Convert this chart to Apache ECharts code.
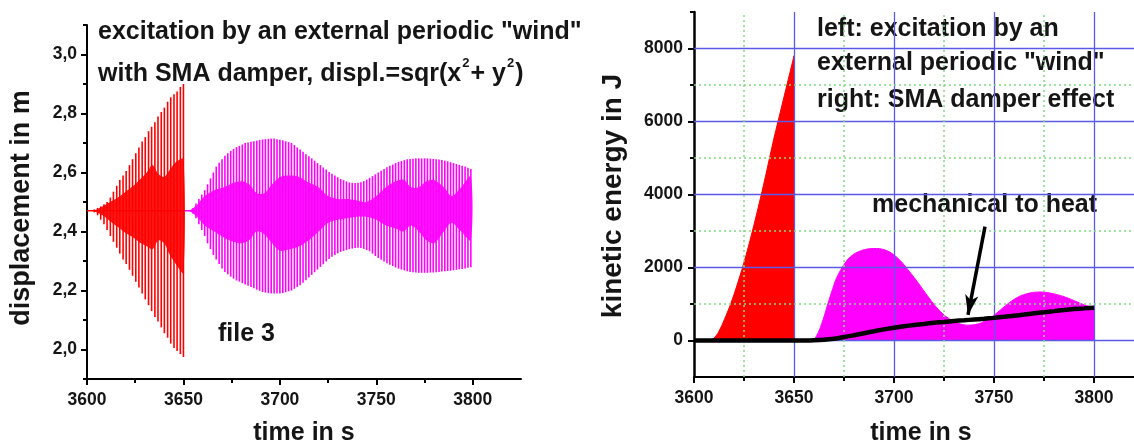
<!DOCTYPE html>
<html>
<head>
<meta charset="utf-8">
<script src="https://cdn.jsdelivr.net/npm/echarts@6/dist/echarts.min.js"></script>
<style>
  html, body { margin: 0; padding: 0; background: #fff; }
  #chart { width: 1134px; height: 446px; }
</style>
</head>
<body>
<div id="chart"></div>
<script>
// ---------- displacement panel (left) ----------
const restLevel = 2.47;

// excitation phase: one stroke per oscillation (time, upper and lower swing)
const redStrokeT = [3600.5,3602.2,3603.8,3605.5,3607.1,3608.8,3610.4,3612.1,3613.7,3615.4,3617.0,3618.7,3620.3,3622.0,3623.6,3625.3,3626.9,3628.6,3630.2,3631.9,3633.5,3635.2,3636.8,3638.5,3640.1,3641.8,3643.4,3645.1,3646.7,3648.4,3650.0];
const redStrokeHi = [2.47,2.47,2.475,2.48,2.485,2.492,2.50,2.515,2.535,2.555,2.575,2.59,2.605,2.625,2.645,2.665,2.685,2.705,2.72,2.74,2.755,2.77,2.79,2.805,2.82,2.84,2.855,2.865,2.875,2.89,2.90];
const redStrokeLo = [2.47,2.47,2.465,2.455,2.44,2.425,2.405,2.385,2.365,2.345,2.325,2.305,2.29,2.27,2.25,2.23,2.21,2.19,2.17,2.15,2.13,2.11,2.095,2.075,2.055,2.04,2.02,2.005,1.995,1.985,1.975];
// dense inner beat region
const redInnerT  = [3600,3604,3608,3612,3616,3620,3624,3628,3631,3634,3637,3640,3643,3646,3650];
const redInnerHi = [2.47,2.472,2.485,2.50,2.515,2.535,2.555,2.58,2.60,2.625,2.595,2.585,2.61,2.635,2.645];
const redInnerLo = [2.47,2.468,2.455,2.435,2.415,2.395,2.38,2.36,2.35,2.34,2.37,2.36,2.32,2.29,2.26];

// damped phase (SMA damper)
const magStrokeT = [3655.0,3656.5,3658.0,3659.5,3661.0,3662.5,3664.0,3665.5,3667.0,3668.5,3670.0,3671.5,3673.0,3674.5,3676.0,3677.5,3679.0,3680.5,3682.0,3683.5,3685.0,3686.5,3688.0,3689.5,3691.0,3692.5,3694.0,3695.5,3697.0,3698.5,3700.0,3701.5,3703.0,3704.5,3706.0,3707.5,3709.0,3710.5,3712.0,3713.5,3715.0,3716.5,3718.0,3719.5,3721.0,3722.5,3724.0,3725.5,3727.0,3728.5,3730.0,3731.5,3733.0,3734.5,3736.0,3737.5,3739.0,3740.5,3742.0,3743.5,3745.0,3746.5,3748.0,3749.5,3751.0,3752.5,3754.0,3755.5,3757.0,3758.5,3760.0,3761.5,3763.0,3764.5,3766.0,3767.5,3769.0,3770.5,3772.0,3773.5,3775.0,3776.5,3778.0,3779.5,3781.0,3782.5,3784.0,3785.5,3787.0,3788.5,3790.0,3791.5,3793.0,3794.5,3796.0,3797.5,3799.0];
const magStrokeHi = [2.48,2.495,2.51,2.525,2.54,2.56,2.58,2.60,2.62,2.633,2.645,2.657,2.665,2.673,2.68,2.686,2.69,2.695,2.70,2.702,2.704,2.706,2.708,2.71,2.712,2.713,2.714,2.715,2.715,2.713,2.711,2.709,2.706,2.703,2.70,2.693,2.685,2.678,2.67,2.662,2.655,2.648,2.64,2.632,2.625,2.617,2.61,2.602,2.596,2.59,2.584,2.578,2.574,2.57,2.566,2.565,2.564,2.565,2.567,2.571,2.576,2.582,2.588,2.594,2.60,2.606,2.612,2.618,2.623,2.627,2.632,2.636,2.639,2.642,2.645,2.646,2.647,2.648,2.648,2.648,2.648,2.648,2.647,2.646,2.645,2.644,2.642,2.64,2.638,2.635,2.632,2.629,2.626,2.623,2.62,2.616,2.612];
const magStrokeLo = [2.46,2.445,2.425,2.405,2.385,2.36,2.34,2.32,2.305,2.29,2.275,2.263,2.255,2.247,2.24,2.234,2.23,2.225,2.22,2.216,2.212,2.208,2.203,2.199,2.195,2.193,2.191,2.19,2.19,2.19,2.19,2.191,2.194,2.197,2.20,2.206,2.212,2.218,2.226,2.235,2.244,2.253,2.262,2.271,2.28,2.289,2.298,2.307,2.314,2.32,2.326,2.331,2.334,2.337,2.34,2.342,2.344,2.345,2.344,2.341,2.337,2.333,2.325,2.317,2.31,2.304,2.298,2.292,2.287,2.283,2.278,2.274,2.271,2.268,2.265,2.263,2.262,2.261,2.26,2.26,2.26,2.26,2.261,2.261,2.262,2.263,2.264,2.265,2.266,2.267,2.269,2.27,2.272,2.273,2.275,2.277,2.279];
const magInnerT  = [3653,3657,3661,3666,3671,3676,3680,3684,3688,3692,3696,3700,3705,3710,3715,3720,3725,3730,3735,3740,3745,3750,3755,3760,3764,3768,3772,3776,3780,3785,3789,3794,3799];
const magInnerHi = [2.47,2.49,2.52,2.54,2.55,2.565,2.57,2.56,2.53,2.53,2.56,2.585,2.59,2.585,2.565,2.55,2.52,2.51,2.51,2.505,2.50,2.52,2.55,2.57,2.576,2.55,2.55,2.57,2.575,2.55,2.52,2.55,2.586];
const magInnerLo = [2.47,2.45,2.42,2.40,2.38,2.365,2.36,2.37,2.40,2.39,2.36,2.335,2.34,2.35,2.37,2.40,2.43,2.44,2.445,2.45,2.45,2.44,2.42,2.41,2.40,2.42,2.40,2.37,2.36,2.40,2.43,2.40,2.37];

const dispTicks = [2.0, 2.2, 2.4, 2.6, 2.8, 3.0];
const dispMinorTicks = [1.9, 2.1, 2.3, 2.5, 2.7, 2.9, 3.1];

// ---------- kinetic energy panel (right) ----------
const redKeT = [3600,3608,3609,3610,3612,3614,3616,3618,3620,3622,3624,3626,3628,3630,3632,3634,3636,3638,3640,3642,3644,3646,3648,3650,3650];
const redKeE = [0,0,20,60,200,420,680,950,1260,1600,1950,2330,2740,3170,3620,4080,4560,5060,5550,6000,6450,6900,7350,7800,0];
const magKeT = [3655,3659,3661,3663,3665,3667,3669,3671,3673,3675,3677,3680,3683,3686,3689,3692,3695,3698,3701,3704,3707,3710,3713,3716,3719,3722,3725,3728,3731,3734,3737,3740,3743,3746,3749,3752,3755,3758,3761,3764,3767,3770,3773,3776,3779,3782,3785,3788,3791,3794,3797,3800,3800];
const magKeE = [0,0,100,330,650,1020,1360,1680,1900,2080,2230,2370,2450,2500,2520,2520,2490,2420,2300,2140,1940,1730,1510,1280,1060,860,700,580,490,440,420,430,470,550,650,780,920,1050,1160,1240,1290,1320,1330,1320,1290,1250,1200,1140,1070,1000,940,890,0];
const heatT = [3600,3655,3660,3665,3670,3675,3680,3685,3690,3695,3700,3705,3710,3715,3720,3725,3730,3735,3740,3745,3750,3755,3760,3765,3770,3775,3780,3785,3790,3795,3800];
const heatE = [0,0,5,20,50,95,145,200,255,305,350,390,425,455,485,510,535,555,575,595,620,650,680,710,745,775,805,835,860,880,900];

const energyTicks = [0, 2000, 4000, 6000, 8000];
const energyMinorTicks = [1000, 3000, 5000, 7000, 9000];
const energyGridMinorY = [1000, 3000, 5000, 7000];

const timeTicks = [3600, 3650, 3700, 3750, 3800];
const timeMinorTicks = [3625, 3675, 3725, 3775];

// ---------- helpers ----------
const FONT = '"Liberation Sans", Arial, sans-serif';
const INK = '#151515';
const RED = '#ff0000';
const MAGENTA = '#ff00ff';

const zip2 = (a, b) => a.map((v, i) => [v, b[i]]);
const zip3 = (a, b, c) => a.map((v, i) => [v, b[i], c[i]]);

function strokeSeries(T, HI, LO, color) {
  return {
    type: 'custom', xAxisIndex: 0, yAxisIndex: 0, silent: true, z: 3,
    data: zip3(T, HI, LO),
    encode: { x: 0, y: [1, 2] },
    renderItem: (params, api) => {
      const top = api.coord([api.value(0), api.value(1)]);
      const bot = api.coord([api.value(0), api.value(2)]);
      return {
        type: 'line',
        shape: { x1: top[0], y1: top[1], x2: bot[0], y2: bot[1] },
        style: { stroke: color, lineWidth: 1.6 }
      };
    }
  };
}

function bandSeries(T, HI, LO, color) {
  return {
    type: 'custom', xAxisIndex: 0, yAxisIndex: 0, silent: true, z: 4,
    data: [[T[0], HI[0]]],
    renderItem: (params, api) => {
      const pts = [];
      for (let i = 0; i < T.length; i++) pts.push(api.coord([T[i], HI[i]]));
      for (let i = T.length - 1; i >= 0; i--) pts.push(api.coord([T[i], LO[i]]));
      return { type: 'polygon', shape: { points: pts, smooth: 0.3 }, style: { fill: color, opacity: 0.9 } };
    }
  };
}

const tickLabel = { fontFamily: FONT, fontWeight: 'bold', fontSize: 17.5, color: INK, formatter: v => String(v) };
const axisLineStyle = { color: '#000', width: 2 };

function mainX(grid, max) {
  return {
    gridIndex: grid, type: 'value', min: 3600, max: max,
    axisLine: { show: true, onZero: false, lineStyle: axisLineStyle },
    axisTick: { show: true, customValues: timeTicks, length: 6, lineStyle: { color: '#000', width: 2 } },
    axisLabel: Object.assign({ customValues: timeTicks, margin: 12 }, tickLabel),
    splitLine: { show: false }
  };
}
function minorX(grid, max) {
  return {
    gridIndex: grid, type: 'value', min: 3600, max: max, position: 'bottom',
    axisLine: { show: false, onZero: false },
    axisTick: { show: true, customValues: timeMinorTicks, length: 4, lineStyle: { color: '#000', width: 2 } },
    axisLabel: { show: false }, splitLine: { show: false }
  };
}

const option = {
  backgroundColor: '#ffffff',
  animation: false,
  grid: [
    { left: 87, top: 25, width: 434, height: 354 },
    { left: 694, top: 12, width: 440, height: 365 }
  ],
  xAxis: [
    mainX(0, 3825), minorX(0, 3825),
    mainX(1, 3820), minorX(1, 3820)
  ],
  yAxis: [
    {
      gridIndex: 0, type: 'value', min: 1.9, max: 3.1,
      axisLine: { show: true, onZero: false, lineStyle: axisLineStyle },
      axisTick: { show: true, customValues: dispTicks, length: 6, lineStyle: { color: '#000', width: 2 } },
      axisLabel: Object.assign({}, tickLabel, { customValues: dispTicks, margin: 10,
        formatter: v => v.toFixed(1).replace('.', ',') }),
      splitLine: { show: false }
    },
    {
      gridIndex: 0, type: 'value', min: 1.9, max: 3.1, position: 'left',
      axisLine: { show: false, onZero: false },
      axisTick: { show: true, customValues: dispMinorTicks, length: 4, lineStyle: { color: '#000', width: 2 } },
      axisLabel: { show: false }, splitLine: { show: false }
    },
    {
      gridIndex: 1, type: 'value', min: -1000, max: 9000,
      axisLine: { show: true, onZero: false, lineStyle: { color: '#000', width: 2.5 } },
      axisTick: { show: true, customValues: energyTicks, length: 6, lineStyle: { color: '#000', width: 2 } },
      axisLabel: Object.assign({ customValues: energyTicks, margin: 11 }, tickLabel),
      splitLine: { show: false }
    },
    {
      gridIndex: 1, type: 'value', min: -1000, max: 9000, position: 'left',
      axisLine: { show: false, onZero: false },
      axisTick: { show: true, customValues: energyMinorTicks, length: 4, lineStyle: { color: '#000', width: 2 } },
      axisLabel: { show: false }, splitLine: { show: false }
    }
  ],
  series: [
    // left panel: rest line, oscillation strokes and dense beat bands
    { type: 'line', xAxisIndex: 0, yAxisIndex: 0, symbol: 'none', silent: true, z: 2,
      data: [[3600, restLevel], [3650, restLevel]], lineStyle: { color: RED, width: 1.5 } },
    { type: 'line', xAxisIndex: 0, yAxisIndex: 0, symbol: 'none', silent: true, z: 2,
      data: [[3650, restLevel], [3656, restLevel]], lineStyle: { color: MAGENTA, width: 1.5 } },
    strokeSeries(redStrokeT, redStrokeHi, redStrokeLo, RED),
    strokeSeries(magStrokeT, magStrokeHi, magStrokeLo, MAGENTA),
    bandSeries(redInnerT, redInnerHi, redInnerLo, RED),
    bandSeries(magInnerT, magInnerHi, magInnerLo, MAGENTA),

    // right panel: grid lines
    { type: 'line', xAxisIndex: 2, yAxisIndex: 2, symbol: 'none', silent: true, z: 1,
      data: [[3600, 0]], lineStyle: { opacity: 0 },
      markLine: {
        silent: true, symbol: 'none', label: { show: false }, animation: false,
        data: [].concat(
          energyTicks.map(v => ({ yAxis: v, lineStyle: { color: '#5a5ae6', width: 1.3, type: 'solid' } })),
          timeTicks.slice(1).map(v => ({ xAxis: v, lineStyle: { color: '#5a5ae6', width: 1.3, type: 'solid' } })),
          energyGridMinorY.map(v => ({ yAxis: v, lineStyle: { color: '#7fdc7f', width: 1.5, type: [2, 3] } })),
          timeMinorTicks.map(v => ({ xAxis: v, lineStyle: { color: '#7fdc7f', width: 1.5, type: [2, 3] } }))
        )
      }
    },
    // kinetic energy envelopes
    { type: 'line', xAxisIndex: 2, yAxisIndex: 2, symbol: 'none', silent: true, z: 3,
      data: zip2(redKeT, redKeE), lineStyle: { color: RED, width: 1 },
      areaStyle: { color: RED, opacity: 1 } },
    { type: 'line', xAxisIndex: 2, yAxisIndex: 2, symbol: 'none', silent: true, z: 3, smooth: 0.2,
      data: zip2(magKeT, magKeE), lineStyle: { color: MAGENTA, width: 1 },
      areaStyle: { color: MAGENTA, opacity: 1 } },
    // dissipated energy (mechanical to heat)
    { type: 'line', xAxisIndex: 2, yAxisIndex: 2, symbol: 'none', silent: true, z: 5, smooth: 0.3,
      data: zip2(heatT, heatE), lineStyle: { color: '#000', width: 4.5 },
      markLine: {
        silent: true, animation: false, symbol: ['none', 'arrow'], symbolSize: [10, 20],
        label: { show: false },
        lineStyle: { color: '#000', width: 3.5, type: 'solid' },
        data: [[{ coord: [3745.5, 3120] }, { coord: [3737, 700] }]]
      }
    }
  ],
  graphic: [
    { type: 'text', left: 98, top: 20, silent: true,
      style: { text: 'excitation by an external periodic "wind"', font: 'bold 25px ' + FONT, fill: INK } },
    { type: 'text', left: 98, top: 57, silent: true,
      style: {
        text: '{t|with SMA damper, displ.=sqr(x}{s|2}{t|+ y}{s|2}{t|)}',
        rich: {
          t: { font: 'bold 25px ' + FONT, fill: INK, lineHeight: 30, verticalAlign: 'bottom' },
          s: { font: 'bold 13px ' + FONT, fill: INK, lineHeight: 30, verticalAlign: 'top', padding: [0, 1, 0, 1] }
        }
      } },
    { type: 'text', x: 218, y: 334, silent: true,
      style: { text: 'file 3', font: 'bold 25px ' + FONT, fill: INK, textVerticalAlign: 'middle' } },
    { type: 'text', x: 22, y: 208, rotation: Math.PI / 2, silent: true,
      style: { text: 'displacement in m', font: 'bold 27px ' + FONT, fill: INK, textAlign: 'center', textVerticalAlign: 'middle' } },
    { type: 'text', x: 304, y: 433, silent: true,
      style: { text: 'time in s', font: 'bold 25px ' + FONT, fill: INK, textAlign: 'center', textVerticalAlign: 'middle' } },

    { type: 'text', x: 817, y: 29, silent: true,
      style: { text: 'left: excitation by an', font: 'bold 25px ' + FONT, fill: INK, textVerticalAlign: 'middle' } },
    { type: 'text', x: 817, y: 63, silent: true,
      style: { text: 'external periodic "wind"', font: 'bold 25px ' + FONT, fill: INK, textVerticalAlign: 'middle' } },
    { type: 'text', x: 817, y: 100, silent: true,
      style: { text: 'right: SMA damper effect', font: 'bold 25px ' + FONT, fill: INK, textVerticalAlign: 'middle' } },
    { type: 'text', x: 872, y: 205, silent: true,
      style: { text: 'mechanical to heat', font: 'bold 25px ' + FONT, fill: INK, textVerticalAlign: 'middle' } },
    { type: 'text', x: 613, y: 196, rotation: Math.PI / 2, silent: true,
      style: { text: 'kinetic energy in J', font: 'bold 28px ' + FONT, fill: INK, textAlign: 'center', textVerticalAlign: 'middle' } },
    { type: 'text', x: 921, y: 433, silent: true,
      style: { text: 'time in s', font: 'bold 25px ' + FONT, fill: INK, textAlign: 'center', textVerticalAlign: 'middle' } }
  ]
};

const chart = echarts.init(document.getElementById('chart'), null, { renderer: 'canvas' });
chart.setOption(option);
</script>
</body>
</html>
